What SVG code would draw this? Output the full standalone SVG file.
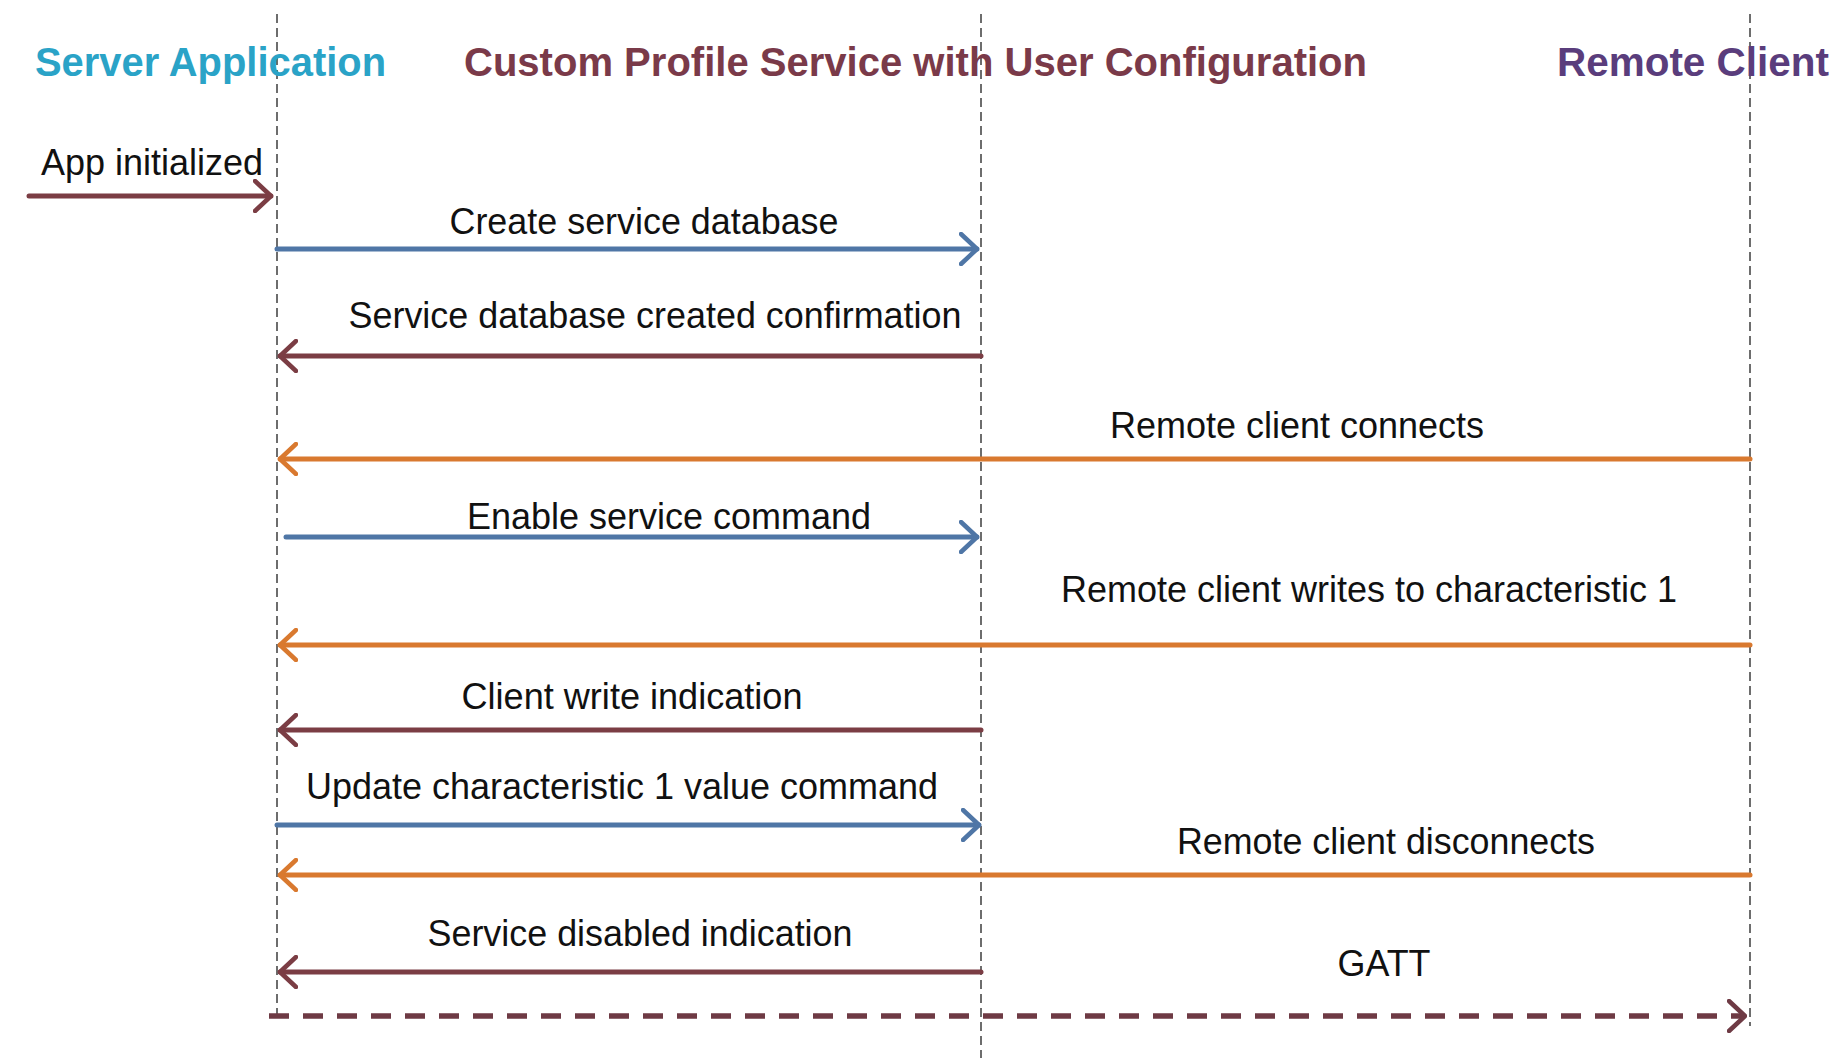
<svg xmlns="http://www.w3.org/2000/svg" width="1832" height="1061" viewBox="0 0 1832 1061">
<style>
.bg{fill:#ffffff}
.life{stroke:#5e5e5e;stroke-width:1.8;stroke-dasharray:9 5;fill:none}
.title{font-family:"Liberation Sans",Arial,sans-serif;font-weight:bold;font-size:40px}
.lbl{font-family:"Liberation Sans",Arial,sans-serif;font-size:37px;fill:#111;text-anchor:middle}
.c{fill:none;stroke-width:5;stroke-linecap:round}
.blue{stroke:#4f76a6}
.maroon{stroke:#7b3d44}
.orange{stroke:#d9792f}
.dash{stroke:#6e3a44;stroke-width:5.5;stroke-dasharray:20 14;stroke-linecap:butt}
</style>
<defs>
<marker id="hBlue" markerUnits="userSpaceOnUse" viewBox="0 0 20 34" refX="18" refY="17" markerWidth="20" markerHeight="34" orient="auto"><path d="M2,2 L18,17 L2,32" fill="none" stroke="#4f76a6" stroke-width="4.5" stroke-linecap="round" stroke-linejoin="round"/></marker>
<marker id="hMaroon" markerUnits="userSpaceOnUse" viewBox="0 0 20 34" refX="18" refY="17" markerWidth="20" markerHeight="34" orient="auto"><path d="M2,2 L18,17 L2,32" fill="none" stroke="#7b3d44" stroke-width="4.5" stroke-linecap="round" stroke-linejoin="round"/></marker>
<marker id="hOrange" markerUnits="userSpaceOnUse" viewBox="0 0 20 34" refX="18" refY="17" markerWidth="20" markerHeight="34" orient="auto"><path d="M2,2 L18,17 L2,32" fill="none" stroke="#d9792f" stroke-width="4.5" stroke-linecap="round" stroke-linejoin="round"/></marker>
<marker id="hDash" markerUnits="userSpaceOnUse" viewBox="0 0 20 34" refX="18" refY="17" markerWidth="20" markerHeight="34" orient="auto"><path d="M2,2 L18,17 L2,32" fill="none" stroke="#6e3a44" stroke-width="4.5" stroke-linecap="round" stroke-linejoin="round"/></marker>
</defs>
<rect class="bg" x="0" y="0" width="1832" height="1061"/>

<g id="server-application">
<line class="life" x1="277" y1="14" x2="277" y2="1018"/>
<text class="title" x="35" y="76" fill="#2aa3c7" textLength="351" lengthAdjust="spacingAndGlyphs">Server Application</text>
</g>
<g id="custom-profile-service">
<line class="life" x1="981" y1="14" x2="981" y2="1058"/>
<text class="title" x="464" y="76" fill="#7a3a49" textLength="903" lengthAdjust="spacingAndGlyphs">Custom Profile Service with User Configuration</text>
</g>
<g id="remote-client">
<line class="life" x1="1750" y1="14" x2="1750" y2="1026"/>
<text class="title" x="1557" y="76" fill="#5a3d7c" textLength="272" lengthAdjust="spacingAndGlyphs">Remote Client</text>
</g>

<g id="connectors">
<line class="c maroon" x1="29" y1="196" x2="271" y2="196" marker-end="url(#hMaroon)"/>
<line class="c blue" x1="277" y1="249" x2="977" y2="249" marker-end="url(#hBlue)"/>
<line class="c maroon" x1="981" y1="356" x2="280" y2="356" marker-end="url(#hMaroon)"/>
<line class="c orange" x1="1750" y1="459" x2="280" y2="459" marker-end="url(#hOrange)"/>
<line class="c blue" x1="286" y1="537" x2="977" y2="537" marker-end="url(#hBlue)"/>
<line class="c orange" x1="1750" y1="645" x2="280" y2="645" marker-end="url(#hOrange)"/>
<line class="c maroon" x1="981" y1="730" x2="280" y2="730" marker-end="url(#hMaroon)"/>
<line class="c blue" x1="277" y1="825" x2="979" y2="825" marker-end="url(#hBlue)"/>
<line class="c orange" x1="1750" y1="875" x2="280" y2="875" marker-end="url(#hOrange)"/>
<line class="c maroon" x1="981" y1="972" x2="280" y2="972" marker-end="url(#hMaroon)"/>
<line class="c dash" x1="269" y1="1016" x2="1745" y2="1016" marker-end="url(#hDash)"/>
</g>

<g id="labels">
<text class="lbl" x="152" y="175" textLength="222" lengthAdjust="spacingAndGlyphs">App initialized</text>
<text class="lbl" x="644" y="234" textLength="389" lengthAdjust="spacingAndGlyphs">Create service database</text>
<text class="lbl" x="655" y="328" textLength="613" lengthAdjust="spacingAndGlyphs">Service database created confirmation</text>
<text class="lbl" x="1297" y="438" textLength="374" lengthAdjust="spacingAndGlyphs">Remote client connects</text>
<text class="lbl" x="669" y="529" textLength="404" lengthAdjust="spacingAndGlyphs">Enable service command</text>
<text class="lbl" x="1369" y="602" textLength="616" lengthAdjust="spacingAndGlyphs">Remote client writes to characteristic 1</text>
<text class="lbl" x="632" y="709" textLength="341" lengthAdjust="spacingAndGlyphs">Client write indication</text>
<text class="lbl" x="622" y="799" textLength="632" lengthAdjust="spacingAndGlyphs">Update characteristic 1 value command</text>
<text class="lbl" x="1386" y="854" textLength="418" lengthAdjust="spacingAndGlyphs">Remote client disconnects</text>
<text class="lbl" x="640" y="946" textLength="425" lengthAdjust="spacingAndGlyphs">Service disabled indication</text>
<text class="lbl" x="1384" y="976" textLength="93" lengthAdjust="spacingAndGlyphs">GATT</text>
</g>
</svg>
